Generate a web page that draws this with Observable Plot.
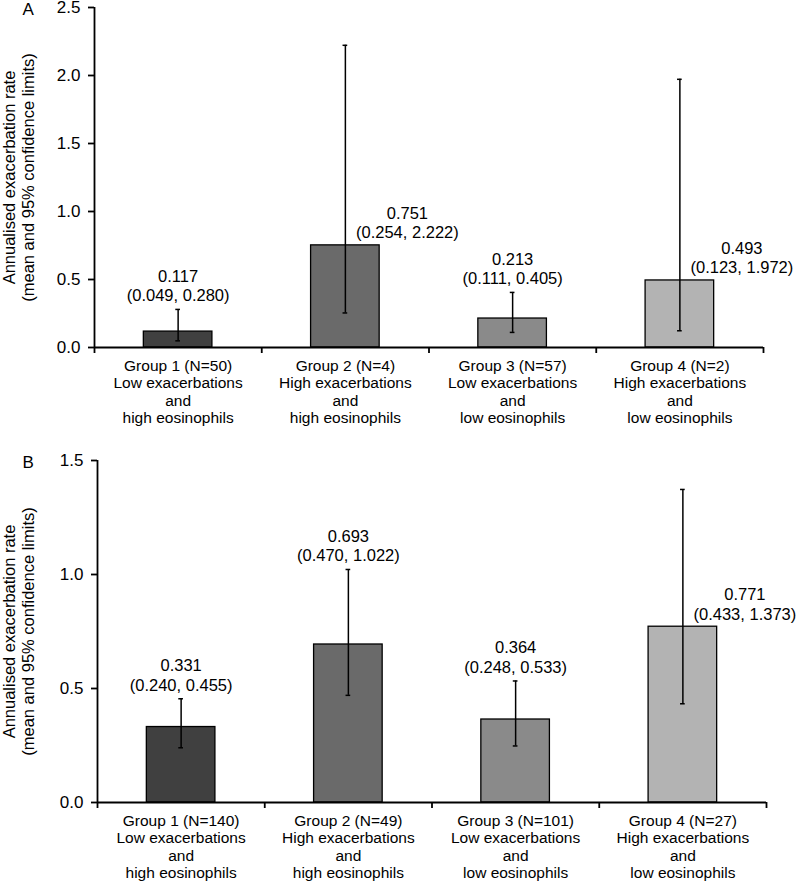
<!DOCTYPE html>
<html>
<head>
<meta charset="utf-8">
<script src="https://cdn.jsdelivr.net/npm/d3@7"></script>
<script src="https://cdn.jsdelivr.net/npm/@observablehq/plot@0.6"></script>
<style>
  body { margin: 0; background: #fff; }
  #chart { width: 796px; }
  svg { display: block; font-family: "Liberation Sans", Arial, sans-serif; }
</style>
</head>
<body>
<div id="chart"></div>
<script>
// ---- data ----
const groupIndex = [1, 2, 3, 4];
const catLabelsA = [
  "Group 1 (N=50)\nLow exacerbations\nand\nhigh eosinophils",
  "Group 2 (N=4)\nHigh exacerbations\nand\nhigh eosinophils",
  "Group 3 (N=57)\nLow exacerbations\nand\nlow eosinophils",
  "Group 4 (N=2)\nHigh exacerbations\nand\nlow eosinophils"
];
const catLabelsB = [
  "Group 1 (N=140)\nLow exacerbations\nand\nhigh eosinophils",
  "Group 2 (N=49)\nHigh exacerbations\nand\nhigh eosinophils",
  "Group 3 (N=101)\nLow exacerbations\nand\nlow eosinophils",
  "Group 4 (N=27)\nHigh exacerbations\nand\nlow eosinophils"
];
const meanA = [0.117, 0.751, 0.213, 0.493];
const lowA  = [0.049, 0.254, 0.111, 0.123];
const highA = [0.280, 2.222, 0.405, 1.972];
const meanB = [0.331, 0.693, 0.364, 0.771];
const lowB  = [0.240, 0.470, 0.248, 0.433];
const highB = [0.455, 1.022, 0.533, 1.373];
const yTicksA = [0, 0.5, 1.0, 1.5, 2.0, 2.5];
const yTicksB = [0, 0.5, 1.0, 1.5];
const barColors = ["#404040", "#6a6a6a", "#8a8a8a", "#b3b3b3"];
const yTitle = "Annualised exacerbation rate\n(mean and 95% confidence limits)";

const fmt3 = d3.format(".3f");

function panel({letter, labels, mean, low, high, yMax, yTicks, height, mt, mb, ml, mr}) {
  const data = groupIndex.map((g, i) => ({
    g, mean: mean[i], lo: low[i], hi: high[i], color: barColors[i],
    label: `${fmt3(mean[i])}\n(${fmt3(low[i])}, ${fmt3(high[i])})`,
    side: high[i] / yMax > 0.75
  }));
  const half = 0.205;
  const cap = 0.014;
  return Plot.plot({
    width: 796, height,
    marginTop: mt, marginBottom: mb, marginLeft: ml, marginRight: mr,
    style: {fontFamily: '"Liberation Sans", Arial, sans-serif', color: "#000", background: "#fff"},
    x: {domain: [0.5, 4.5], axis: null},
    y: {domain: [0, yMax], axis: null},
    marks: [
      Plot.rectY(data, {x1: d => d.g - half, x2: d => d.g + half, y1: 0, y2: "mean", fill: "color", stroke: "#000", strokeWidth: 1.3}),
      Plot.ruleX(data, {x: "g", y1: "lo", y2: "hi", stroke: "#000", strokeWidth: 1.5}),
      Plot.ruleY(data, {y: "hi", x1: d => d.g - cap, x2: d => d.g + cap, stroke: "#000", strokeWidth: 1.5}),
      Plot.ruleY(data, {y: "lo", x1: d => d.g - cap, x2: d => d.g + cap, stroke: "#000", strokeWidth: 1.5}),
      // value labels above CI
      Plot.text(data.filter(d => !d.side), {x: "g", y: "hi", text: "label", dy: -8, lineAnchor: "bottom", textAnchor: "middle", fontSize: 16.5, lineHeight: 1.2, fill: "#000"}),
      // value labels beside tall CI
      Plot.text(data.filter(d => d.side), {x: "g", y: "mean", text: "label", dx: 62, dy: -7, lineAnchor: "bottom", textAnchor: "middle", fontSize: 16.5, lineHeight: 1.2, fill: "#000"}),
      // axes
      Plot.ruleY([0], {stroke: "#000", strokeWidth: 1.8}),
      Plot.ruleX([0.5], {stroke: "#000", strokeWidth: 1.8}),
      Plot.axisX({ticks: [0.5, 1.5, 2.5, 3.5, 4.5], tickSize: 6, tickFormat: () => "", strokeWidth: 1.8, label: null}),
      Plot.axisX({ticks: groupIndex, tickSize: 0, tickPadding: 11, tickFormat: d => labels[d - 1], fontSize: 15.5, lineHeight: 1.13, label: null}),
      Plot.axisY({ticks: yTicks, tickSize: 6, tickPadding: 8, tickFormat: d3.format(".1f"), fontSize: 17, strokeWidth: 1.8, label: null}),
      Plot.text([yTitle], {frameAnchor: "left", rotate: -90, dx: 18 - ml, textAnchor: "middle", lineAnchor: "middle", fontSize: 16.5, lineHeight: 1.15, fill: "#000"}),
      Plot.text([letter], {x: [0.5], y: [yMax], text: [letter], dx: 22 - ml, dy: 2, textAnchor: "start", lineAnchor: "middle", fontSize: 17, fill: "#000"})
    ]
  });
}

const chart = document.getElementById("chart");
chart.append(panel({letter: "A", labels: catLabelsA, mean: meanA, low: lowA, high: highA, yMax: 2.5, yTicks: yTicksA, height: 451, mt: 7, mb: 104, ml: 94, mr: 33}));
chart.append(panel({letter: "B", labels: catLabelsB, mean: meanB, low: lowB, high: highB, yMax: 1.5, yTicks: yTicksB, height: 431, mt: 9, mb: 80, ml: 97, mr: 30}));
</script>
</body>
</html>
